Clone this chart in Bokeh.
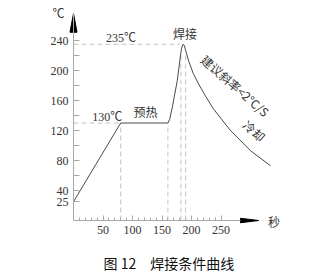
from bokeh.plotting import figure
from bokeh.layouts import column
from bokeh.models import FixedTicker, ColumnDataSource
from bokeh.core.properties import value
from bokeh.embed import file_html
from bokeh.resources import INLINE

# ---- data ----
heat_t = [0, 80, 160, 163, 167, 172, 176, 181, 183, 185, 186]
heat_v = [25, 130, 130, 135, 149, 170, 187, 218, 229, 234, 235]
cool_t = [186, 188, 190, 195, 203, 212, 223, 237, 266, 300, 334]
cool_v = [235, 233, 227, 213, 196, 182, 167, 149, 120, 93, 73]

y_ticks = [25, 40, 80, 120, 160, 200, 240]
y_minor = [60, 100, 140, 180, 220]
x_ticks = [50, 100, 150, 200, 250]
x_minor = [10, 20, 30, 40, 60, 70, 80, 90, 110, 120, 130, 140, 160, 170, 180, 190, 210, 220, 230, 240]

vline_x = [80, 160, 182, 190]
vline_top = [130, 130, 222, 222]
hline_y = [235, 130]
hline_end = [180, 80]

caption = "图 12\u3000焊接条件曲线"

# ---- layout scale ----
W, H1, H2 = 333, 250, 26
x0_px, y0_px = 73, 220      # pixel position of data origin
sx, sy = 0.59, 0.75         # px per unit
left, right, top, bottom = 40, 10, 5, 10
x_start = -(x0_px - left) / sx
x_end = (W - right - x0_px) / sx
y_end = (y0_px - top) / sy
y_start = -(H1 - bottom - y0_px) / sy

y_tip, y_base = 276, 251
x_tip, x_base = 314, 283

p = figure(width=W, height=H1, output_backend="svg", toolbar_location=None,
           x_range=(x_start, x_end), y_range=(y_start, y_end),
           min_border_left=left, min_border_right=right,
           min_border_top=top, min_border_bottom=bottom)
p.outline_line_color = None
p.grid.visible = False
p.background_fill_color = "white"
p.border_fill_color = "white"

axis_col = "#a8a8a8"
num_font = "Liberation Serif"
for ax in (p.xaxis[0], p.yaxis[0]):
    ax.fixed_location = 0
    ax.axis_line_color = axis_col
    ax.major_tick_line_color = axis_col
    ax.minor_tick_line_color = axis_col
    ax.major_tick_out = 0
    ax.minor_tick_out = 0
    ax.major_label_text_font = num_font
    ax.major_label_text_font_size = "12px"
    ax.major_label_text_color = "#333333"
    ax.major_label_standoff = 5

p.yaxis[0].ticker = FixedTicker(ticks=y_ticks, minor_ticks=y_minor)
p.yaxis[0].bounds = (0, y_tip)
p.yaxis[0].major_tick_in = 6
p.yaxis[0].minor_tick_in = 6

p.xaxis[0].ticker = FixedTicker(ticks=x_ticks, minor_ticks=x_minor)
p.xaxis[0].bounds = (0, x_base)
p.xaxis[0].major_tick_in = 5
p.xaxis[0].minor_tick_in = 3

# arrows
p.patch([-6, 0, 6], [y_base, y_tip, y_base], color="black")
p.patch([x_base, x_tip, x_base], [-3, 0, 3], color="black")

# dashed guides
dash_col = "#c4c4c4"
p.segment(x0=vline_x, y0=[0] * len(vline_x), x1=vline_x, y1=vline_top,
          line_color=dash_col, line_dash="5 3", line_width=1)
p.segment(x0=[0] * len(hline_y), y0=hline_y, x1=hline_end, y1=hline_y,
          line_color=dash_col, line_dash="5 3", line_width=1)

# curve
p.line(heat_t + cool_t[1:], heat_v + cool_v[1:], line_color="#4a4a4a", line_width=1)

# labels
lab = ColumnDataSource(dict(
    x=[80.5, 57, -25.4],
    y=[242.7, 138, 276],
    t=["235℃", "130℃", "℃"],
))
p.text(x="x", y="y", text="t", source=lab, text_align="center", text_baseline="middle",
       text_font=value("Liberation Serif, Noto Sans CJK SC"), text_font_size="12px",
       text_color="#333333")

cjk = ColumnDataSource(dict(
    x=[122, 189, 340, 274.6, 306.8],
    y=[145.3, 250, -1.3, 180, 120],
    t=["预热", "焊接", "秒", "建议斜率<2℃/S", "冷却"],
    a=[0, 0, 0, -0.72, -0.72],
))
p.text(x="x", y="y", text="t", angle="a", source=cjk, text_align="center",
       text_baseline="middle", text_font=value("Noto Sans CJK SC"),
       text_font_size="12px", text_color="#333333")

# caption strip
c = figure(width=W, height=H2, output_backend="svg", toolbar_location=None,
           x_range=(0, W), y_range=(0, H2), min_border=0,
           x_axis_type=None, y_axis_type=None)
c.outline_line_color = None
c.grid.visible = False
c.text(x=[151], y=[H2 - 12], text=[caption], text_align="center", text_baseline="middle",
       text_font=value("Noto Sans CJK SC"), text_font_size="14px", text_color="#111111")

layout = column(p, c, spacing=0)
open("out.html", "w").write(file_html(layout, INLINE))
